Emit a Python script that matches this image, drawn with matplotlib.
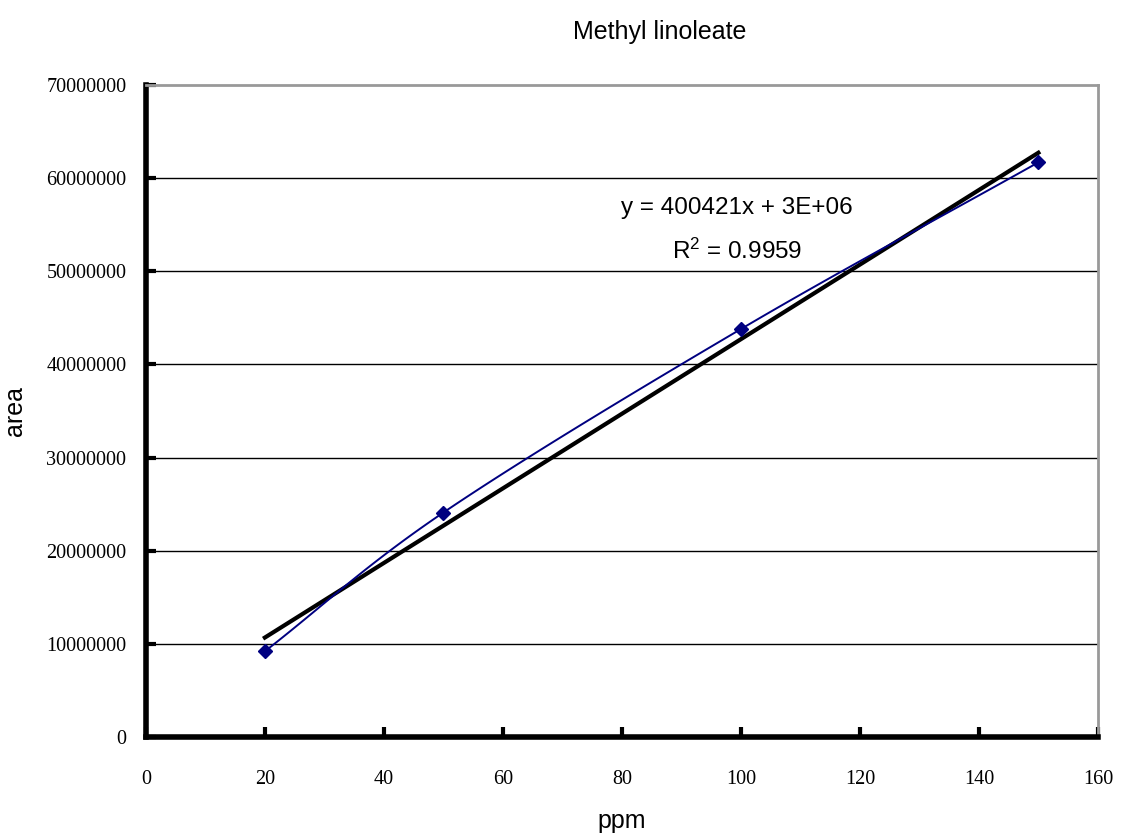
import numpy as np
import matplotlib.pyplot as plt

# %% data
ppm = [20, 50, 100, 150]
area = [9200000, 24100000, 43800000, 61700000]
slope = 400421
intercept = 2670000
eq_text = 'y = 400421x + 3E+06'
r2_text = '$\\mathregular{R^2}$ = 0.9959'
x_ticks = list(range(0, 161, 20))
y_ticks = list(range(0, 70000001, 10000000))


def smooth(xs, ys, n=40):
    # Excel style smoothed line (Catmull-Rom through the points)
    xs = np.asarray(xs, float)
    ys = np.asarray(ys, float)
    px = np.concatenate([[2 * xs[0] - xs[1]], xs, [2 * xs[-1] - xs[-2]]])
    py = np.concatenate([[2 * ys[0] - ys[1]], ys, [2 * ys[-1] - ys[-2]]])
    ox, oy = [], []
    t = np.linspace(0, 1, n)
    for i in range(1, len(px) - 2):
        for p, o in ((px, ox), (py, oy)):
            p0, p1, p2, p3 = p[i - 1], p[i], p[i + 1], p[i + 2]
            c = 0.5 * ((2 * p1) + (-p0 + p2) * t + (2 * p0 - 5 * p1 + 4 * p2 - p3) * t ** 2
                       + (-p0 + 3 * p1 - 3 * p2 + p3) * t ** 3)
            o.extend(c)
    return ox, oy


# %% plot
fig = plt.figure(figsize=(11.22, 8.38), dpi=100)
ax = fig.add_axes([0.130, 0.1205, 0.8485, 0.778])

ax.set_xlim(0, 160)
ax.set_ylim(0, 70000000)

for yv in y_ticks[1:-1]:
    ax.axhline(yv, color='black', linewidth=1, zorder=1)

sx, sy = smooth(ppm, area)
ax.plot(sx, sy, color='#000080', linewidth=1.4, zorder=3)
ax.plot(ppm, area, linestyle='none', marker='D', markersize=7,
        color='#000080', zorder=4)

tx = np.array([ppm[0], ppm[-1]])
ax.plot(tx, slope * tx + intercept, color='black', linewidth=3, zorder=2)

ax.text(99.3, 56800000, eq_text, ha='center', va='center', fontsize=17.5,
        family='Liberation Sans')
ax.text(99.3, 52200000, r2_text, ha='center', va='center', fontsize=17.5,
        family='Liberation Sans')

for side in ['top', 'right']:
    ax.spines[side].set_color('#999999')
    ax.spines[side].set_linewidth(2)
for side in ['left', 'bottom']:
    ax.spines[side].set_color('black')
    ax.spines[side].set_linewidth(4)

ax.set_xticks(x_ticks)
ax.set_yticks(y_ticks)
ax.set_xticklabels([str(v) for v in x_ticks], family='Liberation Serif', fontsize=14.5)
ax.set_yticklabels([str(v) for v in y_ticks], family='Liberation Serif', fontsize=14.5)
ax.tick_params(axis='x', direction='in', length=7, width=3, pad=24)
ax.tick_params(axis='y', direction='in', length=7, width=3, pad=14)

ax.set_xlabel('ppm', family='Liberation Sans', fontsize=18, labelpad=14)
ax.set_ylabel('area', family='Liberation Sans', fontsize=18, labelpad=14)
fig.text(0.588, 0.962, 'Methyl linoleate', ha='center', va='center',
         family='Liberation Sans', fontsize=18)

fig.savefig('out.png', dpi=100)
